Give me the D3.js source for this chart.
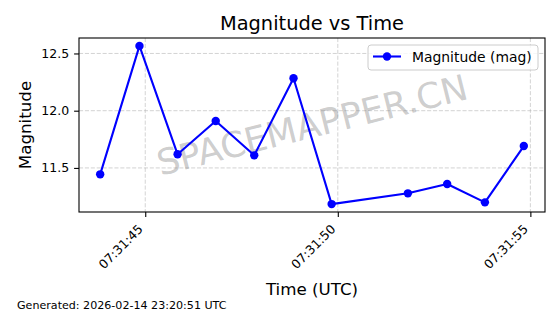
<!DOCTYPE html>
<html>
<head>
<meta charset="utf-8">
<script src="https://cdn.jsdelivr.net/npm/d3@7"></script>
<style>
  body { margin: 0; background: #fff; }
  svg { display: block; font-family: "DejaVu Sans", sans-serif; }
</style>
</head>
<body>
<svg id="chart" width="560" height="314"></svg>
<script>
// datos
const times = ["07:31:43.830", "07:31:44.850", "07:31:45.840", "07:31:46.830", "07:31:47.830",
    "07:31:48.850", "07:31:49.840", "07:31:51.820", "07:31:52.840", "07:31:53.820", "07:31:54.830"];
const magnitudes = [11.444, 12.566, 11.619, 11.910, 11.610, 12.283, 11.184, 11.278, 11.359, 11.199, 11.691];
const yTicks = [11.5, 12.0, 12.5];
const seriesName = "Magnitude (mag)";
const titleText = "Magnitude vs Time";
const footerText = "Generated: 2026-02-14 23:20:51 UTC";

const parseTime = d3.utcParse("%H:%M:%S.%L");
const data = times.map((t, i) => ({ t: parseTime(t), v: magnitudes[i] }));

const svg = d3.select("#chart");
const plotLeft = 79, plotRight = 545, plotTop = 38, plotBottom = 212;

// margen de 5% como matplotlib
const tExt = d3.extent(data, d => +d.t);
const tPad = (tExt[1] - tExt[0]) * 0.05;
const vExt = d3.extent(magnitudes);
const vPad = (vExt[1] - vExt[0]) * 0.05;

const x = d3.scaleUtc()
    .domain([new Date(tExt[0] - tPad), new Date(tExt[1] + tPad)])
    .range([plotLeft, plotRight]);
const y = d3.scaleLinear()
    .domain([vExt[0] - vPad, vExt[1] + vPad])
    .range([plotBottom, plotTop]);

const xTicks = x.ticks(d3.utcSecond.every(5));

// rejilla
const grid = svg.append("g")
    .attr("stroke", "#b0b0b0")
    .attr("stroke-opacity", 0.7)
    .attr("stroke-width", 0.8)
    .attr("stroke-dasharray", "4.1,1.8");
grid.selectAll(".gy").data(yTicks).enter().append("line")
    .attr("x1", plotLeft).attr("x2", plotRight)
    .attr("y1", d => y(d)).attr("y2", d => y(d));
grid.selectAll(".gx").data(xTicks).enter().append("line")
    .attr("y1", plotTop).attr("y2", plotBottom)
    .attr("x1", d => x(d)).attr("x2", d => x(d));

// marca de agua
svg.append("text")
    .attr("transform", `translate(${(plotLeft + plotRight) / 2},${(plotTop + plotBottom) / 2}) rotate(-14)`)
    .attr("text-anchor", "middle")
    .attr("dominant-baseline", "central")
    .style("font-size", "35.5px")
    .style("fill", "#808080")
    .style("fill-opacity", 0.4)
    .text("SPACEMAPPER.CN");

// ejes
const xAxis = svg.append("g")
    .attr("transform", `translate(0,${plotBottom})`)
    .call(d3.axisBottom(x).tickValues(xTicks).tickFormat(d3.utcFormat("%H:%M:%S")).tickSize(4.9).tickPadding(3));
xAxis.select(".domain").remove();
xAxis.selectAll("line").attr("stroke-width", 1.1);
xAxis.selectAll("text")
    .style("font-size", "12.5px")
    .style("font-family", "DejaVu Sans")
    .attr("fill", "#000")
    .attr("text-anchor", "end")
    .attr("dy", null)
    .attr("y", 0)
    .attr("transform", "translate(-2,18) rotate(-45)");

const yAxis = svg.append("g")
    .attr("transform", `translate(${plotLeft},0)`)
    .call(d3.axisLeft(y).tickValues(yTicks).tickFormat(d3.format(".1f")).tickSize(4.9).tickPadding(4.9));
yAxis.select(".domain").remove();
yAxis.selectAll("line").attr("stroke-width", 1.1);
yAxis.selectAll("text")
    .style("font-size", "12.5px")
    .style("font-family", "DejaVu Sans")
    .attr("fill", "#000");

// serie
const line = d3.line().x(d => x(d.t)).y(d => y(d.v));
svg.append("path")
    .datum(data)
    .attr("d", line)
    .attr("fill", "none")
    .attr("stroke", "#0000ff")
    .attr("stroke-width", 2.1)
    .attr("stroke-linejoin", "round");
svg.selectAll(".pt").data(data).enter().append("circle")
    .attr("cx", d => x(d.t))
    .attr("cy", d => y(d.v))
    .attr("r", 4.2)
    .attr("fill", "#0000ff");

// marco
svg.append("rect")
    .attr("x", plotLeft).attr("y", plotTop)
    .attr("width", plotRight - plotLeft).attr("height", plotBottom - plotTop)
    .attr("fill", "none")
    .attr("stroke", "#000")
    .attr("stroke-width", 1.1);

// leyenda
const legend = svg.append("g").attr("transform", "translate(368,45)");
legend.append("rect")
    .attr("width", 170).attr("height", 25)
    .attr("rx", 3)
    .attr("fill", "#fff").attr("fill-opacity", 0.8)
    .attr("stroke", "#cccccc");
legend.append("line")
    .attr("x1", 5).attr("x2", 33).attr("y1", 11.5).attr("y2", 11.5)
    .attr("stroke", "#0000ff").attr("stroke-width", 2.1);
legend.append("circle")
    .attr("cx", 19).attr("cy", 11.5).attr("r", 4.2).attr("fill", "#0000ff");
legend.append("text")
    .attr("x", 44).attr("y", 16.5)
    .style("font-size", "13.9px")
    .text(seriesName);

// textos
svg.append("text")
    .attr("x", (plotLeft + plotRight) / 2).attr("y", 30)
    .attr("text-anchor", "middle")
    .style("font-size", "19.4px")
    .text(titleText);
svg.append("text")
    .attr("x", (plotLeft + plotRight) / 2).attr("y", 295)
    .attr("text-anchor", "middle")
    .style("font-size", "16.7px")
    .text("Time (UTC)");
svg.append("text")
    .attr("transform", `translate(31,${(plotTop + plotBottom) / 2}) rotate(-90)`)
    .attr("text-anchor", "middle")
    .style("font-size", "16.7px")
    .text("Magnitude");
svg.append("text")
    .attr("x", 17).attr("y", 309)
    .style("font-size", "11.1px")
    .text(footerText);
</script>
</body>
</html>
